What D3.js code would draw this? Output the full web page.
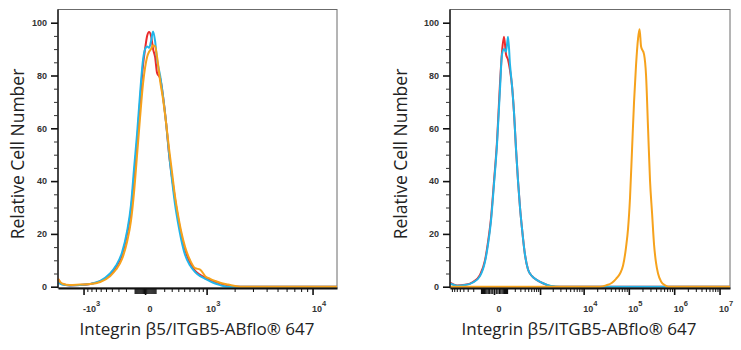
<!DOCTYPE html>
<html>
<head>
<meta charset="utf-8">
<script src="https://cdn.jsdelivr.net/npm/d3@7"></script>
<style>
body { margin: 0; background: #fff; }
svg text { font-family: "Liberation Sans", Arial, sans-serif; }
</style>
</head>
<body>
<svg id="chart" width="741" height="350"></svg>
<script>
// y axis ticks
var yMajor = [0, 20, 40, 60, 80, 100];
var yMinor = [5, 10, 15, 25, 30, 35, 45, 50, 55, 65, 70, 75, 85, 90, 95];

// left histogram (three overlaid samples)
var leftX = [-1890, -1720, -1420, -1100, -830, -610, -430, -335, -250, -186,
    -140, -106, -75, -46, -18, 0, 18, 36, 55, 75,
    96, 117, 151, 186, 224, 264, 306, 350, 397, 447,
    517, 613, 718, 834, 961, 1100, 1253, 1420, 1720, 2270, 16000];
var leftRed = [3, 1, 0.5, 0.6, 1, 2, 4.5, 7.5, 12, 20,
    29, 42, 55, 70, 84, 90, 95, 96.5, 95, 90,
    87, 81, 79, 72, 62, 50, 41, 33, 26, 20,
    14, 9, 6, 4.5, 3.5, 2.6, 1.8, 1.2, 0.5, 0, 0];
var leftBlue = [1.5, 0.8, 0.5, 0.6, 1, 2.2, 5, 8, 13, 21,
    31, 45, 58, 73, 86, 90, 91, 90.5, 93, 96.7,
    93, 86, 80, 72, 62, 50, 40, 31, 24, 18,
    12, 8, 5.5, 4, 3, 2, 1.2, 0.6, 0, 0, 0];
var leftOrange = [3, 1.2, 0.6, 0.8, 1, 1.8, 4, 6.5, 10.5, 17,
    25, 36, 50, 64, 77, 83, 87, 89, 90, 91.5,
    91, 87, 78, 71, 62, 52, 43, 34, 27, 21,
    15, 10, 7, 6.5, 4, 3, 2.2, 1.5, 0.8, 0, 0];

// right histogram
var rightX = [-892, -593, -359, -204, -111, -62, -38, -17.6, 0, 17.6,
    38, 53.6, 70.7, 89.7, 111, 134, 160, 188, 220, 255,
    293, 336, 409, 494, 629, 842, 1180, 1825, 2943,
    23130, 31400, 42630, 52260, 64050, 74610, 86890, 96200, 106470, 117800,
    130400, 144300, 159800, 172500, 186200, 216800, 240000, 265500, 293800, 325200,
    359900, 398300, 440800, 513200, 629000, 732300, 17000000];
var rightRed = [1.5, 0.5, 0.7, 1.8, 4.5, 10, 17, 26, 40, 55,
    77, 89, 94.7, 88, 86, 82, 76, 66, 52, 40,
    30, 22, 12, 6.5, 4, 2.5, 1.3, 0.2, 0,
    0, 0, 0, 0, 0, 0, 0, 0, 0, 0,
    0, 0, 0, 0, 0, 0, 0, 0, 0, 0,
    0, 0, 0, 0, 0, 0, 0];
var rightBlue = [1.2, 0.4, 0.6, 1.6, 4, 9.5, 16, 25, 39, 54,
    75, 88, 90, 89, 94.7, 84, 76, 66, 52, 40,
    30, 22, 12, 6.5, 4, 2.5, 1.3, 0.3, 0,
    0, 0, 0, 0, 0, 0, 0, 0, 0, 0,
    0, 0, 0, 0, 0, 0, 0, 0, 0, 0,
    0, 0, 0, 0, 0, 0, 0];
var rightOrange = [0, 0, 0, 0, 0, 0, 0, 0, 0, 0,
    0, 0, 0, 0, 0, 0, 0, 0, 0, 0,
    0, 0, 0, 0, 0, 0, 0, 0, 0,
    0, 0.5, 1.5, 3, 5, 8, 15, 22, 34, 52,
    70, 84, 94, 97.5, 91, 88, 80, 60, 40, 28,
    16, 9, 5, 2, 0.5, 0, 0];

// x tick labels (base, exponent)
var leftMajor = [-1000, 0, 1000, 10000];
var leftLabels = [["-10", "3"], ["0", ""], ["10", "3"], ["10", "4"]];
var rightMajor = [-1000, 0, 1000, 10000, 100000, 1000000, 10000000];
var rightLabels = [["", ""], ["0", ""], ["", ""], ["10", "4"], ["10", "5"], ["10", "6"], ["10", "7"]];

var xTitle = "Integrin \u03b25/ITGB5-ABflo\u00ae 647";
var yTitle = "Relative Cell Number";
var colors = ["#ea2a2c", "#22b5e9", "#f6a21c"];

var svg = d3.select("#chart");
var plotTop = 9.5, plotBottom = 288;

var y = d3.scaleLinear().domain([0, 105]).range([286.7, plotTop]);

var panels = [
    { x0: 58, x1: 337, c: 470, domain: [-1890, 16000], xs: leftX,
      series: [leftRed, leftBlue, leftOrange], major: leftMajor, labels: leftLabels,
      titleX: 197, yTitleX: 24 },
    { x0: 450, x1: 730, c: 107, domain: [-892, 17000000], xs: rightX,
      series: [rightRed, rightBlue, rightOrange], major: rightMajor, labels: rightLabels,
      titleX: 579, yTitleX: 407 }
];

// log-style minor ticks; the ones close to zero are drawn a bit longer
function minorTicks(domain) {
    var t = [];
    [100, 1000, 10000, 100000, 1000000].forEach(function (p) {
        for (var m = 2; m <= 9; m++) {
            t.push(m * p, -m * p);
        }
    });
    return t.filter(function (v) { return v > domain[0] && v < domain[1]; });
}
function zeroTicks() {
    var t = [];
    for (var m = 1; m <= 10; m++) { t.push(m * 10, -m * 10); }
    return t;
}

panels.forEach(function (p) {
    var x = d3.scaleSymlog().constant(p.c).domain(p.domain).range([p.x0, p.x1]);
    var g = svg.append("g");

    // frame
    g.append("rect")
        .attr("x", p.x0).attr("y", plotTop)
        .attr("width", p.x1 - p.x0).attr("height", plotBottom - plotTop)
        .attr("fill", "none").attr("stroke", "#6b6b6b").attr("stroke-width", 1);

    // curves
    var line = d3.line()
        .x(function (d, i) { return x(p.xs[i]); })
        .y(function (d) { return y(d); })
        .curve(d3.curveMonotoneX);

    p.series.forEach(function (s, k) {
        g.append("path")
            .datum(s)
            .attr("d", line)
            .attr("fill", "none")
            .attr("stroke", colors[k])
            .attr("stroke-width", 2)
            .attr("stroke-linejoin", "round");
    });

    // y axis
    var yAx = g.append("g")
        .attr("transform", "translate(" + p.x0 + ",0)")
        .call(d3.axisLeft(y).tickValues(yMajor).tickSize(7).tickSizeOuter(0).tickPadding(4));
    yAx.select(".domain").attr("stroke", "#222").attr("stroke-width", 1.5)
        .attr("d", "M0," + plotTop + "V" + plotBottom);
    yAx.selectAll(".tick line").attr("stroke", "#111").attr("stroke-width", 1.6);
    yAx.selectAll("text").attr("font-size", 9).attr("font-weight", "bold").attr("fill", "#333");

    var yMin = g.append("g")
        .attr("transform", "translate(" + p.x0 + ",0)")
        .call(d3.axisLeft(y).tickValues(yMinor).tickSize(4).tickFormat(""));
    yMin.select(".domain").remove();
    yMin.selectAll(".tick line").attr("stroke", "#333");

    // x axis
    var xMin = g.append("g")
        .attr("transform", "translate(0," + plotBottom + ")")
        .call(d3.axisBottom(x).tickValues(minorTicks(p.domain)).tickSize(4).tickFormat(""));
    xMin.select(".domain").remove();
    xMin.selectAll(".tick line").attr("stroke", "#111");

    var xZero = g.append("g")
        .attr("transform", "translate(0," + plotBottom + ")")
        .call(d3.axisBottom(x).tickValues(zeroTicks()).tickSize(6).tickFormat(""));
    xZero.select(".domain").remove();
    xZero.selectAll(".tick line").attr("stroke", "#111").attr("stroke-width", 1.2);

    var majors = p.major.filter(function (v) { return v >= p.domain[0] && v <= p.domain[1]; });
    var xAx = g.append("g")
        .attr("transform", "translate(0," + plotBottom + ")")
        .call(d3.axisBottom(x).tickValues(majors).tickSize(7).tickSizeOuter(0));
    xAx.select(".domain").attr("stroke", "#111").attr("stroke-width", 2);
    xAx.selectAll(".tick line").attr("stroke", "#111").attr("stroke-width", 1.6);

    xAx.selectAll(".tick text").each(function (d) {
        var lab = p.labels[p.major.indexOf(d)];
        var t = d3.select(this).text(null)
            .attr("text-anchor", "start").attr("x", d === 0 ? 2 : -1)
            .attr("y", 23.5).attr("dy", null)
            .attr("font-size", 9).attr("font-weight", "bold").attr("fill", "#333");
        t.append("tspan").text(lab[0]);
        if (lab[1]) {
            t.append("tspan").attr("dy", -6).attr("font-size", 7.5).text(lab[1]);
        }
    });

    // titles
    g.append("text")
        .attr("x", p.titleX).attr("y", 335)
        .attr("text-anchor", "middle")
        .style("font-family", "'Open Sans', sans-serif")
        .attr("font-size", 17).attr("fill", "#222")
        .text(xTitle);

    g.append("text")
        .attr("transform", "translate(" + p.yTitleX + ",154) rotate(-90)")
        .attr("text-anchor", "middle")
        .style("font-family", "'Open Sans', sans-serif")
        .attr("font-size", 17.5).attr("fill", "#222")
        .text(yTitle);
});
</script>
</body>
</html>
